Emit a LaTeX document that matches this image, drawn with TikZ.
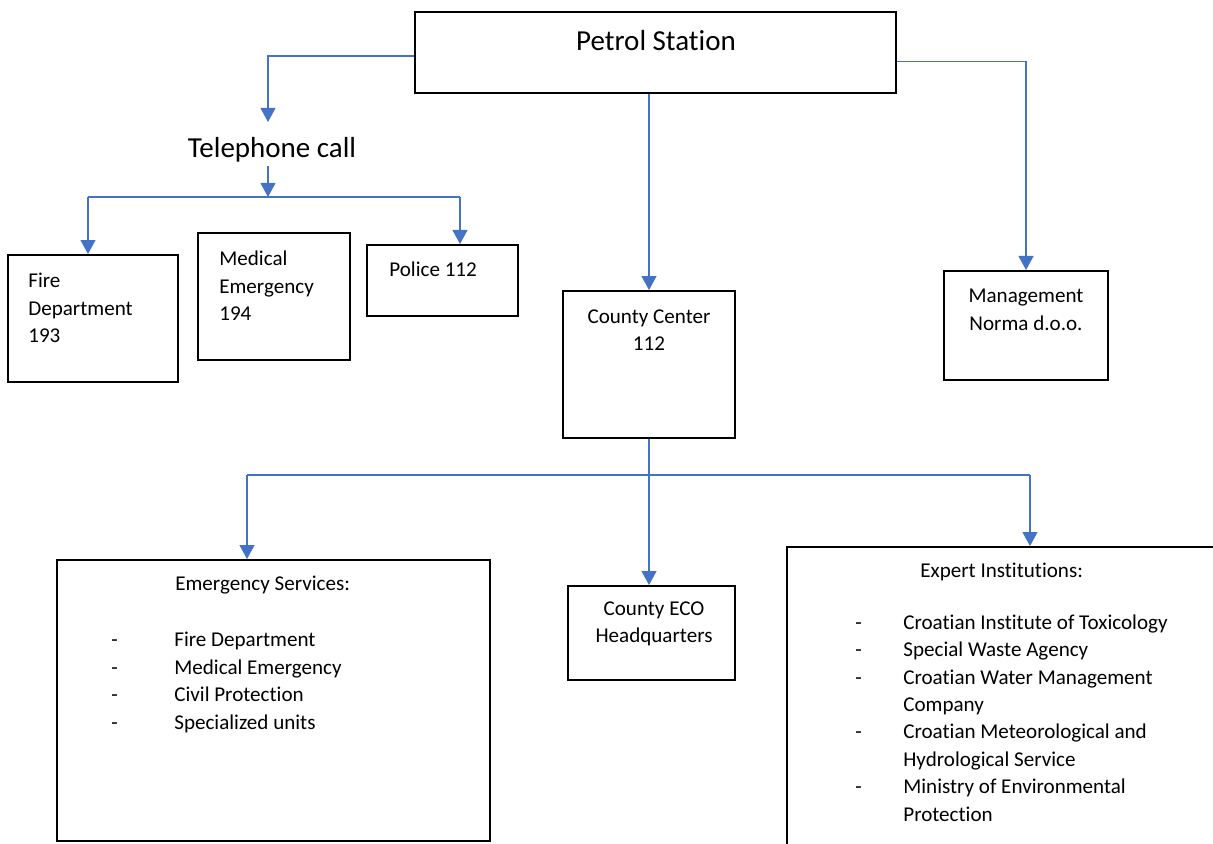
\documentclass[tikz,border=0pt]{standalone}
\usepackage{fontspec}
\setmainfont{Carlito}[Ligatures=NoCommon]
\usetikzlibrary{arrows.meta}
\definecolor{linkblue}{RGB}{68,114,196}
\newcommand{\listdash}[2]{\makebox[#1][l]{-}#2}
\tikzset{
  box/.style={rectangle,draw,line width=1.1pt},
  wire/.style={draw=linkblue,line width=0.8pt},
  link/.style={wire,-{Triangle[width=8.5pt,length=8pt]}},
  body/.style={inner sep=0pt,align=left,font=\fontsize{12}{15.6}\selectfont},
  head/.style={inner sep=2pt,font=\fontsize{16.5}{20}\selectfont}
}
\begin{document}
\begin{tikzpicture}[x=0.02cm,y=-0.02cm]
  \clip (0,0) rectangle (1213,843);
  % draw petrol station
  \node at(655.5,52.5)[box,minimum width=9.62cm,minimum height=1.62cm](petrol){};
  \node at(656,41)[head](petroltxt){Petrol Station};
  % draw "Telephone call" text
  \node at(272,150)[head](telcall){Telephone call};
  % draw the three phone numbers
  \node at(93,318.5)[box,minimum width=3.4cm,minimum height=2.54cm](fire){};
  \node at(28,308)[body,anchor=west](firetxt){Fire\\Department\\193};
  \node at(274,296.5)[box,minimum width=3.04cm,minimum height=2.54cm](medical){};
  \node at(219,286)[body,anchor=west](medicaltxt){Medical\\Emergency\\194};
  \node at(442.5,280.5)[box,minimum width=3.02cm,minimum height=1.42cm](police){};
  \node at(389,269)[body,anchor=west](policetxt){Police 112};
  % draw county center
  \node at(649,364.5)[box,minimum width=3.44cm,minimum height=2.94cm](county){};
  \node at(649,330)[body,align=center](countytxt){County Center\\112};
  % draw management
  \node at(1026,325.5)[box,minimum width=3.28cm,minimum height=2.18cm](mgmt){};
  \node at(1026,310)[body,align=center](mgmttxt){Management\\Norma d.o.o.};
  % draw county ECO headquarters
  \node at(651.5,633)[box,minimum width=3.34cm,minimum height=1.88cm](eco){};
  \node at(654,624)[body,align=center](ecotxt){County ECO\\Headquarters};
  % draw emergency services
  \node at(273.5,700.5)[box,minimum width=8.66cm,minimum height=5.62cm](emerg){};
  \node at(175,585)[body,anchor=west](emergtitle){Emergency Services:};
  \node at(111,682.5)[body,anchor=west](emerglist){%
    \listdash{1.26cm}{Fire Department}\\
    \listdash{1.26cm}{Medical Emergency}\\
    \listdash{1.26cm}{Civil Protection}\\
    \listdash{1.26cm}{Specialized units}};
  % draw expert institutions (runs off the page)
  \node at(1008.5,703.5)[box,minimum width=8.86cm,minimum height=6.26cm](expert){};
  \node at(920,572)[body,anchor=west](experttitle){Expert Institutions:};
  \node at(855,718)[body,anchor=west](expertlist){%
    \listdash{0.96cm}{Croatian Institute of Toxicology}\\
    \listdash{0.96cm}{Special Waste Agency}\\
    \listdash{0.96cm}{Croatian Water Management}\\
    \hspace*{0.96cm}Company\\
    \listdash{0.96cm}{Croatian Meteorological and}\\
    \hspace*{0.96cm}Hydrological Service\\
    \listdash{0.96cm}{Ministry of Environmental}\\
    \hspace*{0.96cm}Protection};
  % bend and bus points
  \coordinate (telin) at (268,122);
  \coordinate (tbus) at (268,197);
  \coordinate (tl) at (88,197);
  \coordinate (tr) at (460,197);
  \coordinate (bl) at (247,475);
  \coordinate (br) at (1030,475);
  % draw arrows from petrol station
  \draw [link]([yshift=-0.07cm]petrol.west) -| (telin);
  \draw [link](petrol.south -| county.north) -- (county.north);
  \draw [link]([yshift=-0.18cm]petrol.east) -| (mgmt.north);
  % draw arrows from telephone call
  \draw [link](telcall.south -| tbus) -- (tbus);
  \draw [wire](tl) -- (tr);
  \draw [link](tl) -- (tl |- fire.north);
  \draw [link](tr) -- (tr |- police.north);
  % draw arrows from county center
  \draw [link](county.south) -- (county.south |- eco.north);
  \draw [wire](bl) -- (br);
  \draw [link](bl) -- (bl |- emerg.north);
  \draw [link](br) -- (br |- expert.north);
\end{tikzpicture}
\end{document}
